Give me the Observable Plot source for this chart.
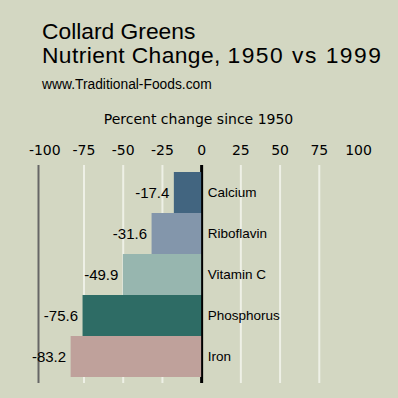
<!DOCTYPE html>
<html>
<head>
<meta charset="utf-8">
<script src="https://cdn.jsdelivr.net/npm/d3@7"></script>
<script src="https://cdn.jsdelivr.net/npm/@observablehq/plot@0.6"></script>
<style>
  html, body { margin: 0; padding: 0; background: #d3d7c2; }
  #wrap { position: relative; width: 398px; height: 398px; background: #d3d7c2; overflow: hidden; }
  .title { position: absolute; left: 42px; top: 19px; font-family: "Liberation Sans", Arial, sans-serif; font-size: 22.8px; line-height: 24px; color: #000; white-space: nowrap; }
  .title .wide { letter-spacing: 0.4px; }
  .title .num { letter-spacing: 1.5px; }
  .site { position: absolute; left: 42px; top: 77px; font-family: "Liberation Sans", Arial, sans-serif; font-size: 13.8px; line-height: 16px; color: #000; white-space: nowrap; }
  #chart { position: absolute; left: 0; top: 100px; }
</style>
</head>
<body>
<div id="wrap">
  <div class="title">Collard Greens<br><span class="wide">Nutrient Change, </span><span class="num">1950 vs 1999</span></div>
  <div class="site">www.Traditional-Foods.com</div>
  <div id="chart"></div>
</div>
<script>
const categories = ["Calcium", "Riboflavin", "Vitamin C", "Phosphorus", "Iron"];
const changes = [-17.4, -31.6, -49.9, -75.6, -83.2];
const colors = ["#426580", "#8396ab", "#97b6af", "#2e6c65", "#bfa19b"];
const tickValues = [-100, -75, -50, -25, 0, 25, 50, 75, 100];
const gridValues = [-75, -50, -25, 25, 50, 75];
const xDomain = [-104, 100];
const axisLabel = "Percent change since 1950";

const data = categories.map((c, i) => ({nutrient: c, change: changes[i], color: colors[i]}));

const chart = Plot.plot({
  width: 398,
  height: 298,
  marginTop: 65,
  marginBottom: 15,
  marginLeft: 38,
  marginRight: 40,
  style: {background: "transparent", fontFamily: "DejaVu Sans", fontSize: "14px", color: "#000", overflow: "visible"},
  x: {
    domain: xDomain,
    axis: "top",
    ticks: tickValues,
    tickSize: 0,
    tickPadding: 11,
    tickFormat: d => String(d),
    label: axisLabel,
    labelAnchor: "center",
    labelArrow: "none",
    labelOffset: 51
  },
  y: {domain: categories, axis: null, padding: 0, insetTop: 5, insetBottom: 5},
  marks: [
    Plot.ruleX(gridValues, {stroke: "#eef0e6", strokeWidth: 2}),
    Plot.ruleX([xDomain[0]], {stroke: "#666666", strokeWidth: 2}),
    Plot.ruleX([0], {stroke: "#000", strokeWidth: 3}),
    Plot.barX(data, {x: "change", y: "nutrient", fill: "color"}),
    Plot.text(data, {x: "change", y: "nutrient", text: d => d.change.toFixed(1), textAnchor: "end", dx: -5, fontSize: 15, fontFamily: "Liberation Sans", fill: "#000"}),
    Plot.text(data, {x: () => 0, y: "nutrient", text: "nutrient", textAnchor: "start", dx: 6, fontSize: 13.5, fontFamily: "Liberation Sans", fill: "#000"})
  ]
});
document.getElementById("chart").appendChild(chart);
</script>
</body>
</html>
